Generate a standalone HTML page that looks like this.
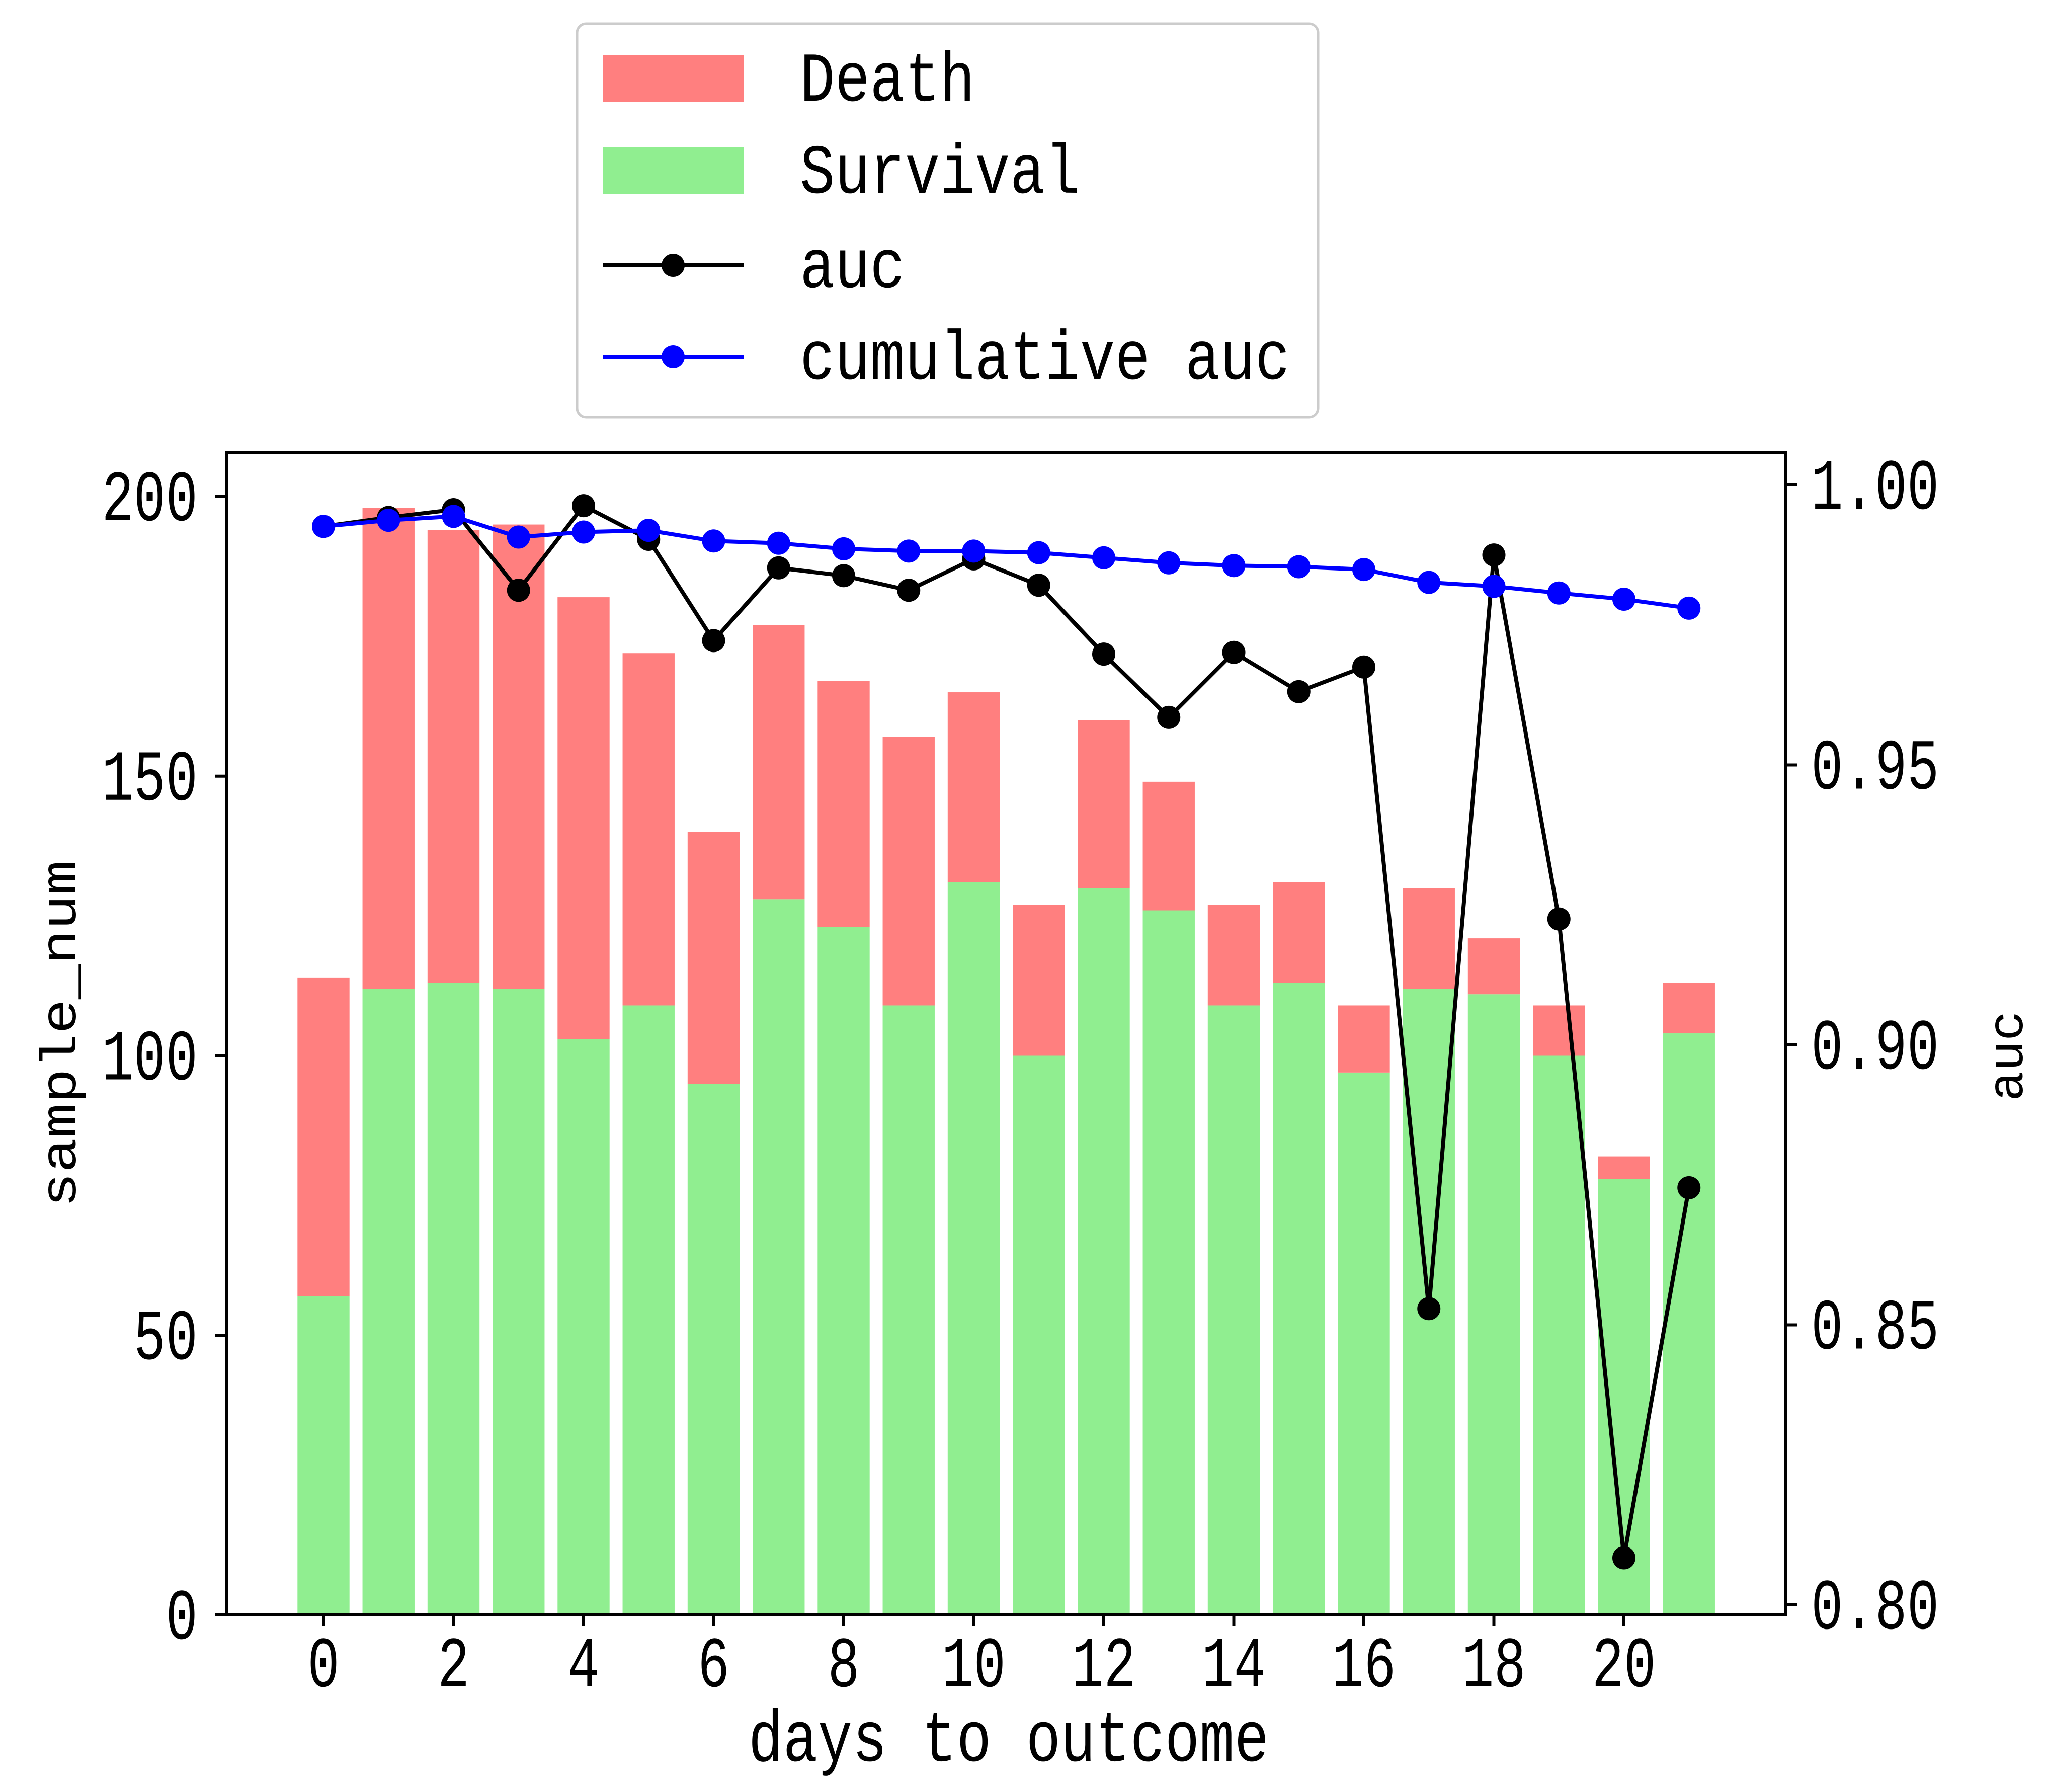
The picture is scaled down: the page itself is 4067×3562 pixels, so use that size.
<!DOCTYPE html>
<html><head><meta charset="utf-8"><style>
html,body{margin:0;padding:0;background:#fff;}
svg{display:block;}
text{font-family:"Liberation Mono","Noto Sans CJK SC",monospace;fill:#000;}
</style></head><body>
<svg id="chart" width="4067" height="3562" viewBox="0 0 4067 3562" xmlns="http://www.w3.org/2000/svg">
<g id="bars"></g>
<g id="lines"></g>
<rect x="450" y="899" width="3099" height="2311" fill="none" stroke="#000" stroke-width="6"/>
<g id="axes"></g>
<text transform="translate(2005,3500) scale(1,1.25)" font-size="115" text-anchor="middle">days to outcome</text>
<text transform="translate(150,2055) rotate(-90)" font-size="100" text-anchor="middle" textLength="690" lengthAdjust="spacingAndGlyphs" font-family="Liberation Sans, sans-serif">sample_num</text>
<text transform="translate(4020,2099) rotate(-90)" font-size="100" text-anchor="middle" textLength="180" lengthAdjust="spacingAndGlyphs" font-family="Liberation Sans, sans-serif">auc</text>
<g>
<rect x="1147" y="47" width="1473" height="782" rx="18" fill="#fff" stroke="#ccc" stroke-width="5"/>
<rect x="1199" y="109" width="279" height="94" fill="#ff7f7f"/>
<text transform="translate(1590,200) scale(1,1.2)" font-size="116">Death</text>
<rect x="1199" y="292" width="279" height="94" fill="#90ee90"/>
<text transform="translate(1590,383) scale(1,1.2)" font-size="116">Survival</text>
<line x1="1199" y1="527" x2="1478" y2="527" stroke="#000" stroke-width="8"/>
<circle cx="1338" cy="527" r="23" fill="#000"/>
<text transform="translate(1590,571) scale(1,1.2)" font-size="116">auc</text>
<line x1="1199" y1="709" x2="1478" y2="709" stroke="#00f" stroke-width="8"/>
<circle cx="1338" cy="709" r="23" fill="#00f"/>
<text transform="translate(1590,753) scale(1,1.2)" font-size="116">cumulative auc</text>
</g>
</svg>
<script>
const days = [0,1,2,3,4,5,6,7,8,9,10,11,12,13,14,15,16,17,18,19,20,21];
const survival = [57,112,113,112,103,109,95,128,123,109,131,100,130,126,109,113,97,112,111,100,78,104];
const death = [57,86,81,83,79,63,45,49,44,48,34,27,30,23,18,18,12,18,10,9,4,9];
const auc = [0.9926,0.9942,0.9956,0.9812,0.9963,0.9903,0.9722,0.9852,0.9838,0.9812,0.9868,0.9821,0.9698,0.9585,0.9701,0.9631,0.9675,0.8529,0.9875,0.9225,0.8084,0.8745];
const cumAuc = [0.9926,0.9937,0.9944,0.9907,0.9916,0.9919,0.9900,0.9896,0.9886,0.9882,0.9882,0.9879,0.9870,0.9861,0.9856,0.9854,0.9849,0.9826,0.9819,0.9807,0.9796,0.9780];
const xTicks = [0,2,4,6,8,10,12,14,16,18,20];
const yTicks = [0,50,100,150,200];
const y2Ticks = [0.80,0.85,0.90,0.95,1.00];

const NS='http://www.w3.org/2000/svg';
const xS = d => 643 + d*129.25;
const yS = v => 3210 - v*(3210-987)/200;
const y2S = v => 3190 - (v-0.80)*(3190-964)/0.20;
function mk(tag, attrs, parent){const e=document.createElementNS(NS,tag);for(const k in attrs)e.setAttribute(k,attrs[k]);parent.appendChild(e);return e;}
const bars=document.getElementById('bars'), lines=document.getElementById('lines'), axes=document.getElementById('axes');
const bw=0.8*129.25;
days.forEach((d,i)=>{
  const s=mk('rect',{x:xS(d)-bw/2,y:yS(survival[i]),width:bw,height:yS(0)-yS(survival[i]),fill:'#90ee90'},bars);
  
  
  const top=survival[i]+death[i];
  const r=mk('rect',{x:xS(d)-bw/2,y:yS(top),width:bw,height:yS(survival[i])-yS(top),fill:'#ff7f7f'},bars);
  
  
});
function series(vals,color,name){
  const p=mk('polyline',{points:days.map((d,i)=>xS(d)+','+y2S(vals[i])).join(' '),fill:'none',stroke:color,'stroke-width':8,'stroke-linejoin':'round'},lines);
  
  
  days.forEach((d,i)=>{
    const c=mk('circle',{cx:xS(d),cy:y2S(vals[i]),r:23,fill:color},lines);
    
    
  });
}
series(auc,'#000','auc');
series(cumAuc,'#00f','cumulative-auc');
xTicks.forEach(t=>{
  const l=mk('line',{x1:xS(t),x2:xS(t),y1:3210,y2:3233,stroke:'#000','stroke-width':6},axes);
  
  
  const tx=mk('text',{transform:'translate('+xS(t)+',3352) scale(1,1.35)','font-size':106,'text-anchor':'middle'},axes);
  tx.textContent=t;
  
  
});
yTicks.forEach(t=>{
  const l=mk('line',{x1:427,x2:450,y1:yS(t),y2:yS(t),stroke:'#000','stroke-width':6},axes);
  
  
  const tx=mk('text',{transform:'translate(393,'+(yS(t)+47)+') scale(1,1.35)','font-size':106,'text-anchor':'end'},axes);
  tx.textContent=t;
  
  
});
y2Ticks.forEach(t=>{
  const l=mk('line',{x1:3549,x2:3573,y1:y2S(t),y2:y2S(t),stroke:'#000','stroke-width':6},axes);
  
  
  const tx=mk('text',{transform:'translate(3600,'+(y2S(t)+47)+') scale(1,1.35)','font-size':106},axes);
  tx.textContent=t.toFixed(2);
  
  
});
</script>
</body></html>
